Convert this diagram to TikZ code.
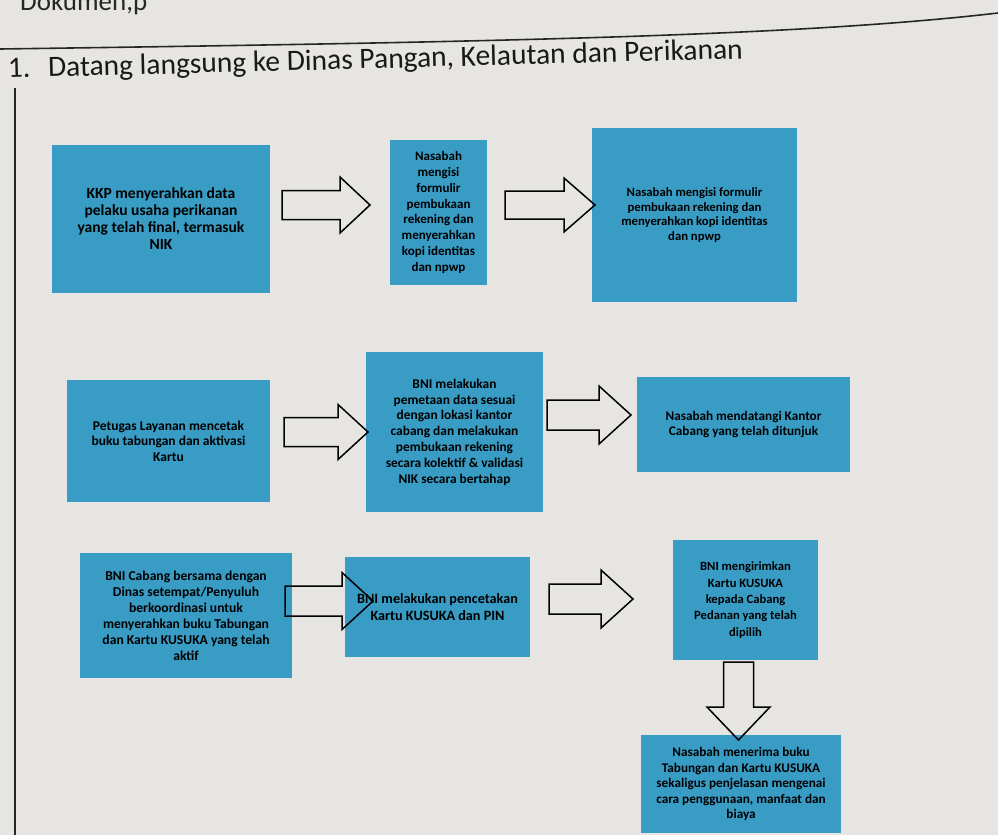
\documentclass[tikz,border=0pt]{standalone}
\usepackage{fontspec}
\setmainfont{Carlito}
\definecolor{paper}{RGB}{231,229,226}
\definecolor{boxblue}{RGB}{56,156,197}
\tikzset{
  box/.style={fill=boxblue, inner sep=0pt, align=center, text=black},
  arrowline/.style={draw=black, line width=1.5pt, line join=miter},
  rule/.style={line width=1.6pt, draw=black!85},
  pics/blockarrow/.style n args={4}{code={
    \draw[arrowline] (0,-#3/2) -- ({#1-#4},-#3/2) -- ({#1-#4},-#2/2) -- (#1,0)
      -- ({#1-#4},#2/2) -- ({#1-#4},#3/2) -- (0,#3/2) -- cycle;
  }}
}
\newcommand{\bxfont}[2]{\bfseries\fontsize{#1}{#2}\selectfont}
\begin{document}
\begin{tikzpicture}[x=1pt,y=-1pt]
\useasboundingbox (0,0) rectangle (998,835);
\fill[paper] (0,0) rectangle (998,835);
\clip (0,0) rectangle (998,835);
% header remnants
\node[anchor=base west, inner sep=0pt, font=\fontsize{27}{30}\selectfont, text=black!85] (doc) at (20,10) {Dokumen,p};
\coordinate (rl) at (0,49);
\coordinate (rr) at (998,13);
\draw[rule] (rl) .. controls (500,42) and (800,36) .. (rr);
\coordinate (vt) at (15,88);
\coordinate (vb) at (15,835);
\draw[rule, line width=1.2pt] (vt) -- (vb);
% title
\node[anchor=base west, inner sep=0pt, rotate=1.5, font=\fontsize{29.5}{34}\selectfont, text=black!90] (title) at (8,78) {1.\hspace{0.6em}Datang langsung ke Dinas Pangan, Kelautan dan Perikanan};
% row 1
\node[box, minimum width=218pt, minimum height=148pt, font=\bxfont{15.5}{17}] (A) at (161,219) {KKP menyerahkan data\\pelaku usaha perikanan\\yang telah final, termasuk\\NIK};
\node[box, minimum width=97pt, minimum height=145pt, font=\bxfont{13}{15.8}] (B) at (438.5,212.5) {Nasabah\\mengisi\\formulir\\pembukaan\\rekening dan\\menyerahkan\\kopi identitas\\dan npwp};
\node[box, minimum width=205pt, minimum height=174pt, font=\bxfont{12.7}{14.8}] (C) at (694.5,215) {Nasabah mengisi formulir\\pembukaan rekening dan\\menyerahkan kopi identitas\\dan npwp};
\pic at (282,205) {blockarrow={88}{56}{29}{30}};
\pic at (505,205) {blockarrow={90}{54}{28}{31}};
% row 2
\node[box, minimum width=203pt, minimum height=122pt, font=\bxfont{13.5}{15.5}] (D) at (168.5,441) {Petugas Layanan mencetak\\buku tabungan dan aktivasi\\Kartu};
\node[box, minimum width=177pt, minimum height=160pt, font=\bxfont{13.4}{15.8}] (E) at (454.5,432) {BNI melakukan\\pemetaan data sesuai\\dengan lokasi kantor\\cabang dan melakukan\\pembukaan rekening\\secara kolektif \& validasi\\NIK secara bertahap};
\node[box, minimum width=213pt, minimum height=95pt, font=\bxfont{13.2}{15.5}] (F) at (743.5,424.5) {Nasabah mendatangi Kantor\\Cabang yang telah ditunjuk};
\pic at (284,432) {blockarrow={84}{55}{29}{30}};
\pic at (547,415) {blockarrow={84}{58}{30}{32}};
% row 3
\node[box, minimum width=212pt, minimum height=125pt, font=\bxfont{13.6}{16}] (G) at (186,615.5) {BNI Cabang bersama dengan\\Dinas setempat/Penyuluh\\berkoordinasi untuk\\menyerahkan buku Tabungan\\dan Kartu KUSUKA yang telah\\aktif};
\node[box, minimum width=185pt, minimum height=100pt, font=\bxfont{14.2}{16.8}] (H) at (437.5,607) {BNI melakukan pencetakan\\Kartu KUSUKA dan PIN};
\node[box, minimum width=145pt, minimum height=120pt, font=\bxfont{12.6}{16.3}] (I) at (745.5,600) {BNI mengirimkan\\Kartu KUSUKA\\kepada Cabang\\Pedanan yang telah\\dipilih};
\node[box, minimum width=200pt, minimum height=98pt, font=\bxfont{13.2}{15.5}] (J) at (741,784) {Nasabah menerima buku\\Tabungan dan Kartu KUSUKA\\sekaligus penjelasan mengenai\\cara penggunaan, manfaat dan\\biaya};
\pic at (285,601) {blockarrow={88}{57}{30}{31}};
\pic at (549,599) {blockarrow={84}{58}{30}{32}};
\pic[rotate=-90] at (738.5,662) {blockarrow={78}{63}{30}{33}};
\end{tikzpicture}
\end{document}
